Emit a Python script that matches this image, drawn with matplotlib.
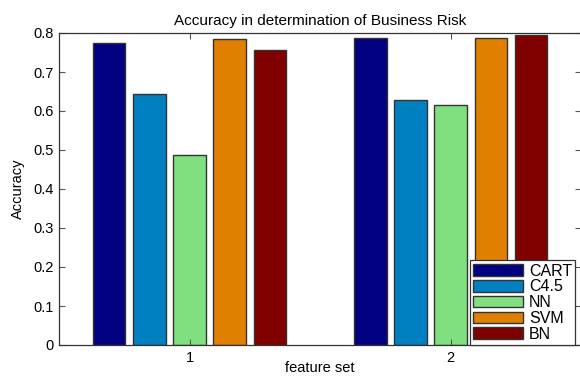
import numpy as np
import matplotlib
matplotlib.use('Agg')
import matplotlib.pyplot as plt

plt.rcParams['font.family'] = ['Liberation Sans', 'DejaVu Sans']

feature_sets = [1, 2]
models = ['CART', 'C4.5', 'NN', 'SVM', 'BN']
acc_cart = [0.774, 0.788]
acc_c45 = [0.644, 0.628]
acc_nn = [0.486, 0.615]
acc_svm = [0.784, 0.788]
acc_bn = [0.757, 0.796]
colors = ['#000080', '#0080c0', '#80e080', '#e08000', '#800000']

series = [acc_cart, acc_c45, acc_nn, acc_svm, acc_bn]

fig = plt.figure(figsize=(5.8, 3.76), dpi=100)
ax = fig.add_axes([59 / 580, 1 - 345 / 376, 521 / 580 + 0.002, 312 / 376])

x = np.array(feature_sets, dtype=float)
step = 0.154
width = 0.125
for i, (name, vals) in enumerate(zip(models, series)):
    ax.bar(x + (i - 2) * step, vals, width, color=colors[i], edgecolor='#333333',
           linewidth=1.0, label=name)

ax.set_xlim(0.5, 2.5)
ax.set_ylim(0, 0.8)
ax.set_xticks(feature_sets)
ax.set_yticks(np.arange(0, 0.81, 0.1))
ax.set_yticklabels(['0', '0.1', '0.2', '0.3', '0.4', '0.5', '0.6', '0.7', '0.8'])
ax.tick_params(direction='in', length=4, width=0.8, color='#555555',
               labelsize=10.5, top=True, right=True, pad=4)
for s in ax.spines.values():
    s.set_color('#333333')
    s.set_linewidth(0.9)

ax.set_title('Accuracy in determination of Business Risk', fontsize=11, pad=6)
ax.set_xlabel('feature set', fontsize=10.5, va='center')
ax.xaxis.set_label_coords(0.5, -0.073)
ax.set_ylabel('Accuracy', fontsize=10.5, labelpad=6)

# legend sits in the lower right corner and runs past the right edge
leg = ax.legend(loc='lower left', bbox_to_anchor=(0.787, 0.0), borderaxespad=0,
                fontsize=11.5, handlelength=3.1, handleheight=0.75, labelspacing=0.05,
                handletextpad=0.4, borderpad=0.2, fancybox=False, framealpha=1)
leg.get_frame().set_edgecolor('#333333')
leg.get_frame().set_linewidth(0.9)

fig.savefig('out.png', dpi=100)
